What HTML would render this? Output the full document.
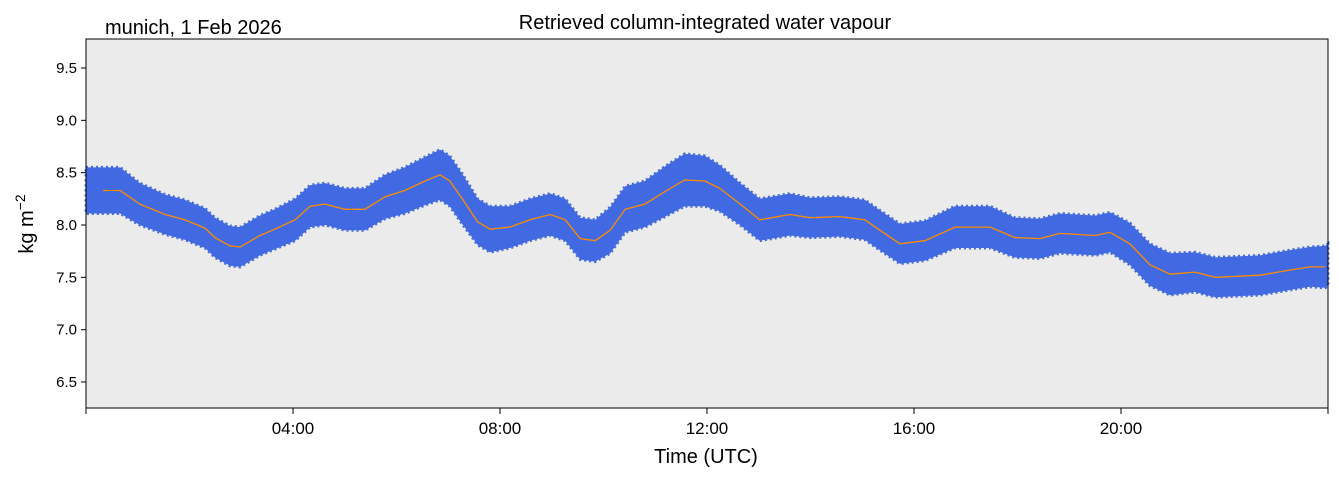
<!DOCTYPE html>
<html><head><meta charset="utf-8">
<style>
body{margin:0;background:#fff;font-family:"Liberation Sans","DejaVu Sans",sans-serif;}
svg{display:block}
</style></head>
<body>
<svg id="chart" width="1339" height="478">
<rect x="86" y="39" width="1242" height="369" fill="#ebebeb"/>
<g id="marks"></g>
<rect x="86" y="39" width="1242" height="369" fill="none" stroke="#000" stroke-width="1"/>
<g id="axes" font-size="15" fill="#000"></g>
<text x="705" y="29" font-size="20" text-anchor="middle">Retrieved column-integrated water vapour</text>
<text x="105" y="34" font-size="20">munich, 1 Feb 2026</text>
<text x="706" y="463" font-size="20" text-anchor="middle">Time (UTC)</text>
<text transform="translate(33,224) rotate(-90)" font-size="20" text-anchor="middle">kg m<tspan dy="-8" font-size="14">−2</tspan></text>
</svg>
<script>
const hours = [0,0.33,0.66,1.04,1.53,1.91,2.3,2.49,2.78,2.98,3.36,3.65,4.04,4.33,4.62,5.0,5.39,5.78,6.16,6.55,6.84,7.03,7.27,7.57,7.81,8.19,8.58,8.97,9.26,9.55,9.84,10.13,10.42,10.8,11.19,11.57,11.96,12.25,12.64,13.02,13.6,13.99,14.57,15.05,15.34,15.73,16.21,16.79,17.47,17.95,18.43,18.82,19.5,19.79,20.17,20.56,20.95,21.43,21.82,22.69,23.27,23.65,23.94,24];
const meanValues = [8.33,8.33,8.33,8.2,8.1,8.05,7.97,7.88,7.8,7.79,7.9,7.96,8.05,8.18,8.2,8.15,8.15,8.27,8.33,8.42,8.48,8.42,8.25,8.03,7.96,7.98,8.05,8.1,8.05,7.87,7.85,7.95,8.15,8.2,8.32,8.43,8.42,8.35,8.2,8.05,8.1,8.07,8.08,8.05,7.95,7.82,7.85,7.98,7.98,7.88,7.87,7.92,7.9,7.93,7.82,7.62,7.53,7.55,7.5,7.52,7.57,7.6,7.6,7.62];
const spreadValues = [0.22,0.22,0.22,0.2,0.19,0.19,0.19,0.19,0.19,0.19,0.19,0.19,0.2,0.2,0.2,0.2,0.2,0.21,0.22,0.23,0.24,0.24,0.24,0.22,0.22,0.2,0.2,0.2,0.2,0.2,0.2,0.22,0.22,0.22,0.24,0.25,0.24,0.22,0.2,0.2,0.2,0.19,0.19,0.19,0.19,0.19,0.19,0.2,0.2,0.19,0.19,0.19,0.19,0.19,0.2,0.2,0.2,0.19,0.19,0.19,0.19,0.19,0.2,0.2];
const yTicks = [6.5,7.0,7.5,8.0,8.5,9.0,9.5];
const xTicks = [4,8,12,16,20];
const xTickLabels = ["04:00","08:00","12:00","16:00","20:00"];

const NS="http://www.w3.org/2000/svg";
const X = h => 86 + h*(1242/24);
const Y = v => 382 - (v-6.5)*(314/3);
const marks=document.getElementById('marks'), axes=document.getElementById('axes');

let up=[],lo=[];
for(let i=0;i<hours.length;i++){up.push(X(hours[i]).toFixed(1)+','+Y(meanValues[i]+spreadValues[i]).toFixed(1));lo.unshift(X(hours[i]).toFixed(1)+','+Y(meanValues[i]-spreadValues[i]).toFixed(1));}
const band=document.createElementNS(NS,'polygon');
band.setAttribute('points',up.concat(lo).join(' '));
band.setAttribute('fill','#4169e1');
band.setAttribute('stroke','#4169e1');
band.setAttribute('stroke-width','3');
band.setAttribute('stroke-dasharray','2 3');


marks.appendChild(band);

let pts=[];
for(let i=1;i<hours.length-1;i++) pts.push(X(hours[i]).toFixed(1)+','+Y(meanValues[i]).toFixed(1));
const line=document.createElementNS(NS,'polyline');
line.setAttribute('points',pts.join(' '));
line.setAttribute('fill','none');line.setAttribute('stroke','#ff8c00');line.setAttribute('stroke-width','1.3');


marks.appendChild(line);

yTicks.forEach(v=>{
  const t=document.createElementNS(NS,'line');
  t.setAttribute('x1',81);t.setAttribute('x2',86);t.setAttribute('y1',Y(v));t.setAttribute('y2',Y(v));t.setAttribute('stroke','#000');
  
  
  axes.appendChild(t);
  const l=document.createElementNS(NS,'text');
  l.setAttribute('x',77);l.setAttribute('y',Y(v)+5);l.setAttribute('text-anchor','end');l.textContent=v.toFixed(1);
  
  
  axes.appendChild(l);
});
[0,...xTicks,24].forEach(h=>{
  const t=document.createElementNS(NS,'line');
  t.setAttribute('x1',X(h));t.setAttribute('x2',X(h));t.setAttribute('y1',408);t.setAttribute('y2',414);t.setAttribute('stroke','#000');
  
  
  axes.appendChild(t);
});
xTicks.forEach((h,i)=>{
  const l=document.createElementNS(NS,'text');
  l.setAttribute('x',X(h));l.setAttribute('y',434);l.setAttribute('text-anchor','middle');l.setAttribute('font-size','17');l.textContent=xTickLabels[i];
  
  
  axes.appendChild(l);
});
</script>
</body></html>
